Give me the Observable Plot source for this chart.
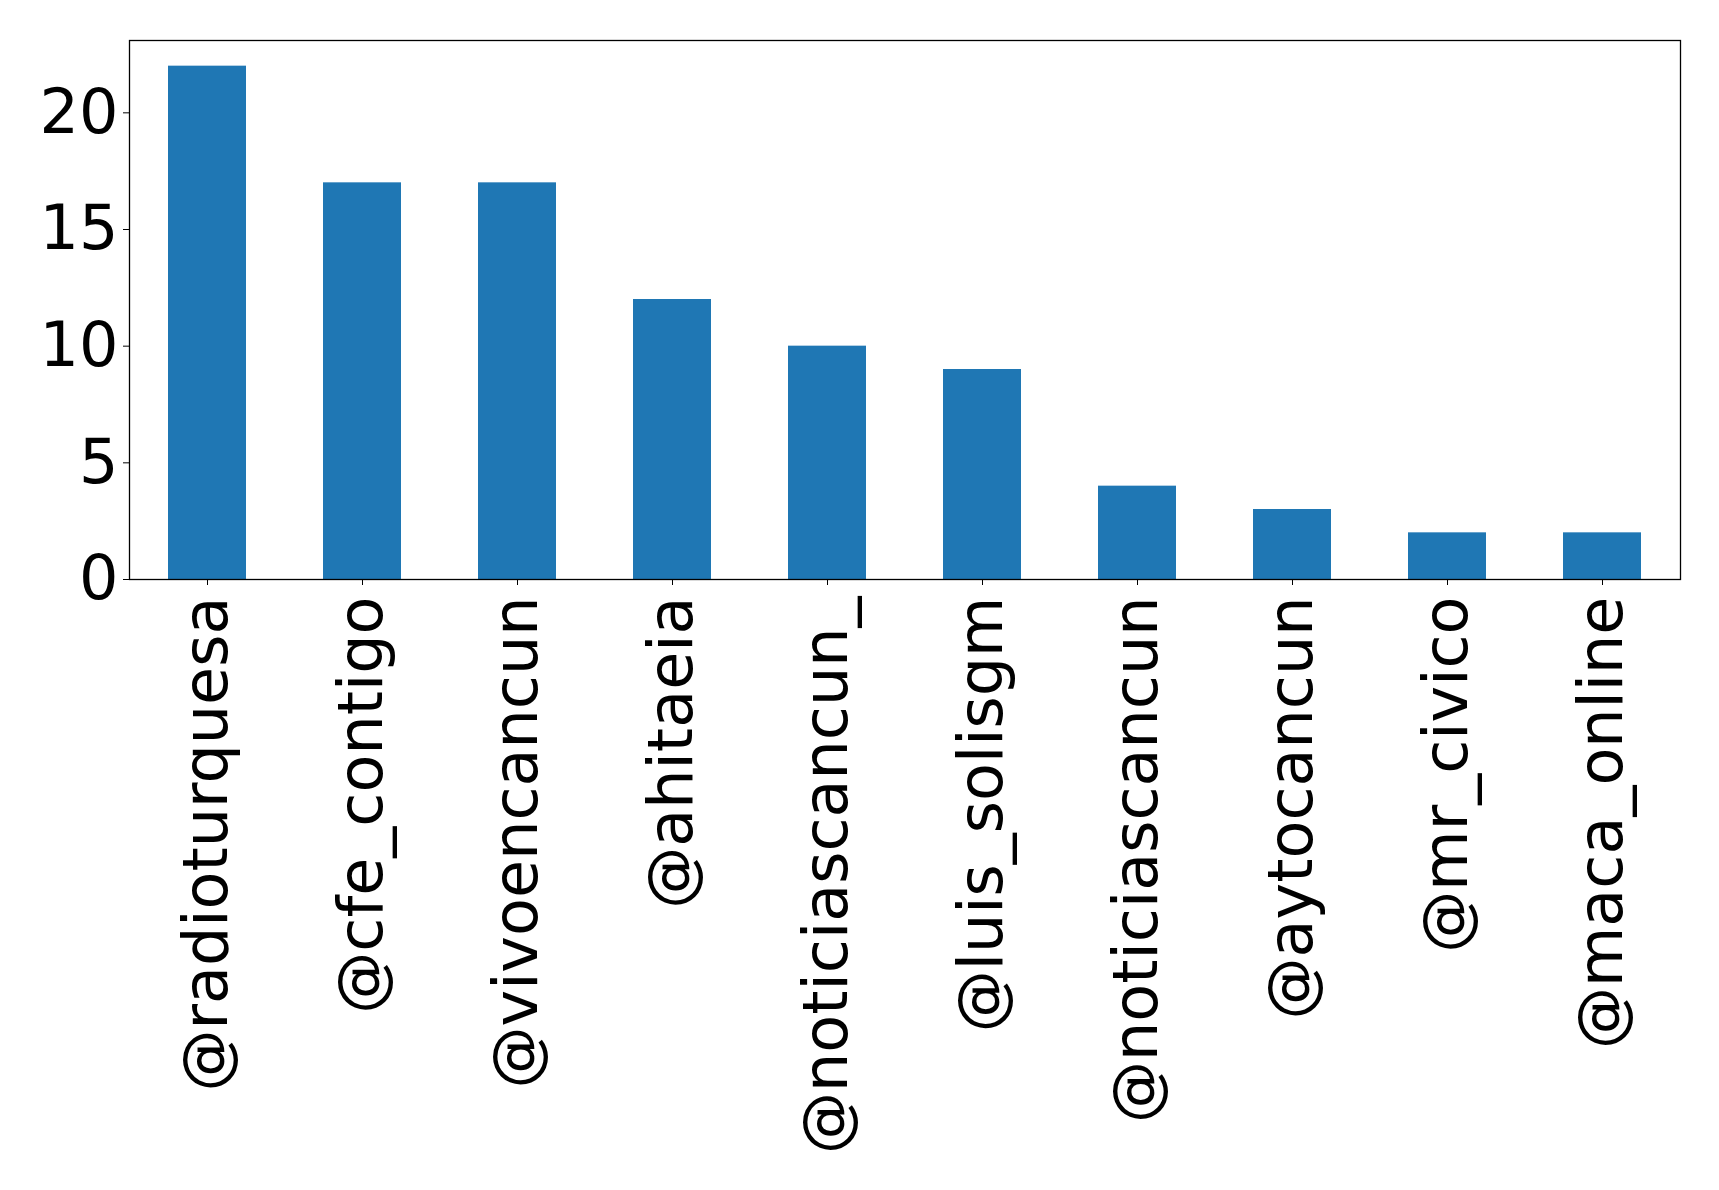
<!DOCTYPE html>
<html>
<head>
<meta charset="utf-8">
<script src="https://cdn.jsdelivr.net/npm/d3@7"></script>
<script src="https://cdn.jsdelivr.net/npm/@observablehq/plot@0.6"></script>
<style>
  html, body { margin: 0; padding: 0; background: #fff; }
</style>
</head>
<body>
<div id="chart"></div>
<script>
const accounts = ["@radioturquesa", "@cfe_contigo", "@vivoencancun", "@ahitaeia", "@noticiascancun_", "@luis_solisgm", "@noticiascancun", "@aytocancun", "@mr_civico", "@maca_online"];
const counts = [22, 17, 17, 12, 10, 9, 4, 3, 2, 2];
const yTicks = [0, 5, 10, 15, 20];

const data = accounts.map((a, i) => ({account: a, count: counts[i]}));

const chart = Plot.plot({
  width: 1719,
  height: 1190,
  marginLeft: 129,
  marginRight: 39,
  marginTop: 40,
  marginBottom: 611,
  style: {fontFamily: "DejaVu Sans", fontSize: "62px", color: "black", background: "white"},
  x: {domain: accounts, paddingInner: 0.5, paddingOuter: 0.25, label: null},
  y: {domain: [0, 23.1], label: null},
  marks: [
    Plot.barY(data, {x: "account", y: "count", fill: "#1f77b4"}),
    Plot.axisY({ticks: yTicks, tickSize: 6, tickPadding: 5, fontSize: 62, label: null, stroke: "black"}),
    Plot.axisX({tickSize: 6, tickPadding: 11, tickRotate: -90, fontSize: 62, label: null, stroke: "black"}),
    Plot.frame({stroke: "black", strokeWidth: 1.3})
  ]
});
document.getElementById("chart").appendChild(chart);
</script>
</body>
</html>
